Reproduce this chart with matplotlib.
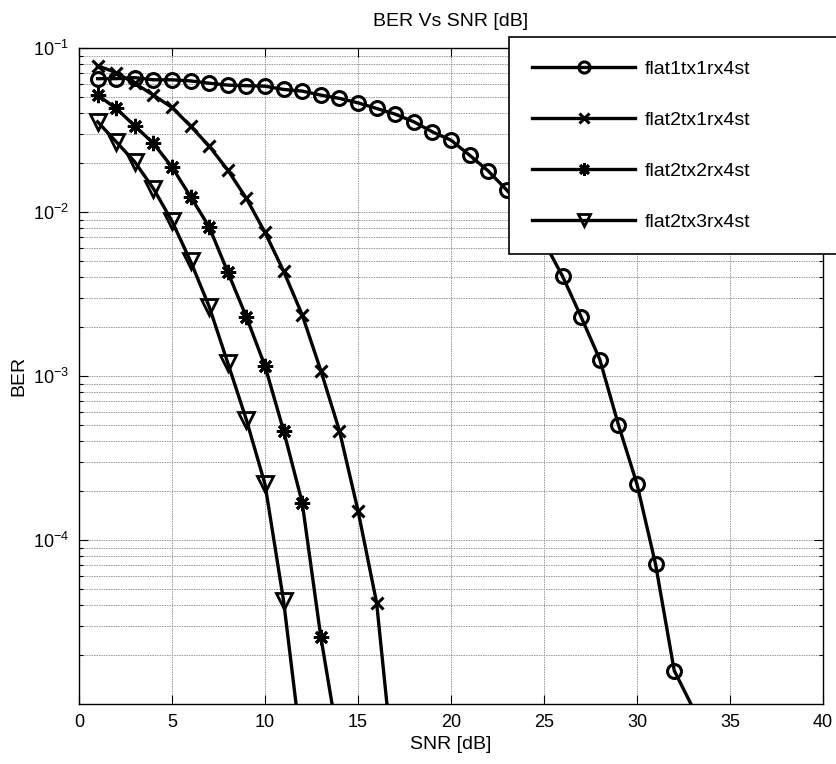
import matplotlib.pyplot as plt
import numpy as np
from matplotlib.ticker import LogLocator, NullFormatter

plt.rcParams['font.family'] = ['Liberation Sans', 'DejaVu Sans']
plt.rcParams['mathtext.fontset'] = 'custom'
plt.rcParams['mathtext.rm'] = 'Liberation Sans'
plt.rcParams['mathtext.it'] = 'Liberation Sans:italic'

# BER curves (SNR in dB)
snr_1x1 = np.arange(1, 34)
ber_1x1 = [0.065, 0.065, 0.066, 0.064, 0.064, 0.063, 0.061, 0.0594, 0.0589, 0.0585,
           0.0559, 0.0546, 0.0516, 0.0493, 0.0463, 0.0428, 0.0395, 0.0355, 0.0308, 0.0274,
           0.0222, 0.0178, 0.0136, 0.0100, 0.0066, 0.00405, 0.00229, 0.00126, 0.000505,
           0.000219, 7.1e-5, 1.6e-5, 9.5e-6]

snr_2x1 = np.arange(1, 18)
ber_2x1 = [0.078, 0.0707, 0.0609, 0.0516, 0.0434, 0.0334, 0.0252, 0.0180, 0.0121, 0.0075,
           0.00436, 0.00236, 0.00108, 0.000464, 0.000151, 4.15e-5, 3.2e-6]

snr_2x2 = np.arange(1, 15)
ber_2x2 = [0.0516, 0.0428, 0.0335, 0.0262, 0.0188, 0.0124, 0.0081, 0.0043, 0.00229,
           0.00115, 0.000464, 0.000169, 2.57e-5, 5.4e-6]

snr_2x3 = np.arange(1, 13)
ber_2x3 = [0.0355, 0.0268, 0.0202, 0.0139, 0.0088, 0.0050, 0.00265, 0.0012, 0.00054,
           0.000219, 4.25e-5, 4.9e-6]

labels = ['flat1tx1rx4st', 'flat2tx1rx4st', 'flat2tx2rx4st', 'flat2tx3rx4st']
ytick_vals = [1e-4, 1e-3, 1e-2, 1e-1]
ytick_labels = [r'$\mathregular{10^{-4}}$', r'$\mathregular{10^{-3}}$',
                r'$\mathregular{10^{-2}}$', r'$\mathregular{10^{-1}}$']

ymin, ymax = 1e-5, 1e-1


def shown(vals):
    # like MATLAB: markers whose centre falls outside the axes are not drawn
    return [i for i, v in enumerate(vals) if v >= ymin]


fig = plt.figure(figsize=(8.36, 7.64), dpi=100)
ax = fig.add_axes([79/836, 1-704/764, (823-79)/836, (704-48)/764])

lw = 2.4
ax.semilogy(snr_1x1, ber_1x1, 'k-', marker='o', mfc='none', mew=2.2, ms=10, lw=lw,
            markevery=shown(ber_1x1), label=labels[0])
ax.semilogy(snr_2x1, ber_2x1, 'k-', marker='x', mew=2.2, ms=9, lw=lw,
            markevery=shown(ber_2x1), label=labels[1])
ax.semilogy(snr_2x2, ber_2x2, 'k-', marker=(8, 2, 0), mew=2.0, ms=11, lw=lw,
            markevery=shown(ber_2x2), label=labels[2])
ax.semilogy(snr_2x3, ber_2x3, 'k-', marker='v', mfc='none', mew=2.0, ms=11, lw=lw,
            markevery=shown(ber_2x3), label=labels[3])

ax.set_xlim(0, 40)
ax.set_ylim(ymin, ymax)
ax.set_xticks(np.arange(0, 41, 5))
ax.set_yticks(ytick_vals)
ax.set_yticklabels(ytick_labels)
ax.yaxis.set_minor_locator(LogLocator(base=10, subs=np.arange(2, 10)))
ax.yaxis.set_minor_formatter(NullFormatter())

ax.tick_params(which='both', direction='in', top=True, right=True, labelsize=13, pad=7)
ax.tick_params(which='major', length=6.5, width=0.8)
ax.tick_params(which='minor', length=3, width=0.8)
for s in ax.spines.values():
    s.set_linewidth(1.0)

grid_kw = dict(color='0.6', linestyle=(0, (1.5, 1.0)), linewidth=0.7)
ax.grid(True, which='major', **grid_kw)
ax.grid(True, which='minor', axis='y', **grid_kw)
ax.set_axisbelow(True)

ax.set_title('BER Vs SNR [dB]', fontsize=14, pad=16)
ax.set_xlabel('SNR [dB]', fontsize=14, labelpad=4)
ax.set_ylabel('BER', fontsize=14, labelpad=4)

leg = ax.legend(loc='upper left', bbox_to_anchor=(509/836, 1-37/764, (900-509)/836, 0),
                bbox_transform=fig.transFigure, mode='expand', borderaxespad=0,
                fontsize=14, borderpad=1.2, labelspacing=1.72, handlelength=5.3,
                handletextpad=0.5, markerscale=0.8, fancybox=False, framealpha=1)
leg.get_frame().set_edgecolor('black')
leg.get_frame().set_linewidth(1.2)
leg.set_clip_on(False)

fig.savefig('out.png', dpi=100)
